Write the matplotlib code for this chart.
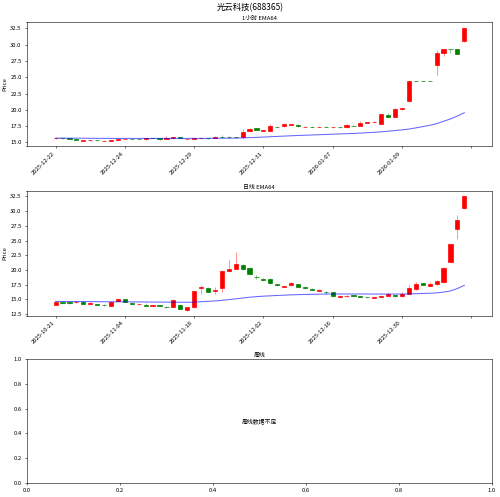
import matplotlib
matplotlib.use('Agg')
import matplotlib.pyplot as plt
import numpy as np

plt.rcParams['font.family'] = ['Noto Sans CJK SC', 'DejaVu Sans']
plt.rcParams['axes.unicode_minus'] = False
plt.rcParams['font.size'] = 8.5

title = '光云科技(688365)'

# 1-hour candles (open, high, low, close) and EMA64
h_open = [15.60, 15.65, 15.60, 15.45, 15.28, 15.30, 15.35, 15.22, 15.28, 15.40,
          15.48, 15.55, 15.55, 15.45, 15.70, 15.60, 15.58, 15.60, 15.82, 15.50,
          15.58, 15.60, 15.62, 15.62, 15.90, 15.90, 15.82, 15.80, 16.80, 17.15,
          16.80, 16.80, 17.42, 17.45, 17.70, 17.70, 17.40, 17.42, 17.40, 17.35,
          17.30, 17.40, 17.30, 17.55, 17.55, 18.05, 18.15, 17.80, 19.25, 18.95,
          20.10, 21.30, 24.50, 24.50, 24.50, 26.90, 28.80, 29.32, 29.40, 30.50]
h_high = [15.70, 15.70, 15.62, 15.50, 15.35, 15.38, 15.38, 15.30, 15.35, 15.55,
          15.55, 15.58, 15.58, 15.62, 15.75, 15.65, 16.05, 15.85, 15.85, 15.58,
          15.65, 15.72, 15.66, 15.95, 16.15, 15.92, 15.85, 17.00, 17.20, 17.20,
          16.90, 17.75, 17.50, 17.95, 17.78, 17.75, 17.45, 17.45, 17.45, 17.55,
          17.40, 17.42, 17.85, 17.70, 18.30, 18.20, 18.25, 19.35, 19.55, 20.35,
          20.35, 24.50, 24.50, 24.50, 24.50, 29.20, 29.40, 29.35, 29.40, 32.50]
h_low = [15.55, 15.55, 15.45, 15.30, 15.25, 15.28, 15.28, 15.20, 15.25, 15.38,
         15.45, 15.48, 15.48, 15.42, 15.62, 15.40, 15.55, 15.58, 15.60, 15.45,
         15.55, 15.58, 15.55, 15.60, 15.85, 15.78, 15.75, 15.75, 16.75, 16.85,
         16.78, 16.70, 17.30, 17.40, 17.65, 17.40, 17.35, 17.35, 17.35, 17.30,
         17.28, 17.28, 17.28, 17.45, 17.50, 18.00, 18.10, 17.75, 18.90, 18.90,
         20.05, 21.20, 24.50, 24.50, 24.50, 25.30, 28.20, 28.70, 28.50, 30.40]
h_close = [15.65, 15.60, 15.50, 15.35, 15.32, 15.35, 15.30, 15.28, 15.32, 15.50,
           15.52, 15.50, 15.50, 15.60, 15.65, 15.58, 15.62, 15.82, 15.62, 15.55,
           15.62, 15.70, 15.60, 15.90, 15.88, 15.80, 15.78, 16.60, 17.10, 16.90,
           16.88, 17.50, 17.40, 17.75, 17.75, 17.45, 17.42, 17.40, 17.42, 17.32,
           17.38, 17.30, 17.60, 17.50, 17.95, 18.15, 18.20, 19.30, 18.95, 20.10,
           20.30, 24.50, 24.50, 24.50, 24.50, 28.80, 29.40, 29.30, 28.50, 32.50]
h_ema = [15.66, 15.66, 15.65, 15.65, 15.64, 15.63, 15.62, 15.62, 15.61, 15.61,
         15.61, 15.61, 15.61, 15.61, 15.61, 15.61, 15.62, 15.62, 15.62, 15.62,
         15.62, 15.62, 15.62, 15.63, 15.64, 15.65, 15.66, 15.69, 15.73, 15.77,
         15.82, 15.87, 15.92, 15.97, 16.02, 16.06, 16.10, 16.14, 16.18, 16.22,
         16.26, 16.30, 16.34, 16.38, 16.43, 16.49, 16.55, 16.62, 16.72, 16.82,
         16.92, 17.05, 17.23, 17.42, 17.62, 17.88, 18.24, 18.60, 19.05, 19.55]
h_ticklabels = ['2025-12-22', '2025-12-24', '2025-12-29', '2025-12-31',
                '2026-01-07', '2026-01-09', '']

# daily candles and EMA64
d_open = [14.10, 14.55, 14.50, 14.50, 14.60, 14.30, 14.25, 14.10, 13.90, 14.80,
          15.00, 14.45, 14.15, 14.05, 13.95, 14.05, 13.80, 13.70, 14.10, 13.20,
          13.70, 17.00, 17.00, 16.40, 17.00, 19.90, 20.20, 20.90, 20.30, 18.85,
          18.45, 18.50, 17.65, 17.20, 17.40, 17.60, 17.10, 16.85, 16.50, 16.25,
          16.25, 15.40, 15.55, 15.75, 15.55, 15.45, 15.25, 15.50, 15.60, 15.70,
          15.60, 16.00, 16.70, 17.75, 17.35, 17.55, 17.90, 21.40, 26.90, 30.50]
d_high = [14.65, 14.60, 14.55, 14.70, 14.70, 14.50, 14.30, 14.15, 14.80, 15.05,
          15.05, 14.50, 14.30, 14.40, 14.05, 14.10, 13.85, 15.00, 14.15, 13.80,
          16.50, 17.50, 17.10, 17.20, 19.90, 21.70, 23.00, 21.00, 20.50, 19.10,
          18.60, 18.60, 17.70, 17.35, 17.90, 17.70, 17.20, 16.95, 16.70, 16.40,
          16.30, 15.70, 15.80, 15.80, 15.60, 15.50, 15.50, 15.70, 16.10, 15.80,
          16.20, 17.40, 18.00, 17.85, 17.90, 18.35, 20.45, 24.50, 29.30, 32.50]
d_low = [14.05, 14.40, 14.15, 14.45, 14.25, 14.25, 14.05, 13.95, 13.85, 14.75,
         14.60, 14.20, 14.05, 13.90, 13.90, 13.90, 13.60, 13.65, 13.30, 13.10,
         13.60, 16.00, 16.20, 16.00, 16.20, 19.60, 20.10, 20.00, 19.20, 18.50,
         18.20, 17.70, 17.35, 17.15, 17.35, 17.05, 16.85, 16.60, 16.45, 16.00,
         15.50, 15.35, 15.50, 15.55, 15.40, 15.30, 15.20, 15.45, 15.55, 15.50,
         15.50, 15.90, 16.60, 17.40, 17.30, 17.50, 17.85, 21.30, 25.20, 30.40]
d_close = [14.55, 14.45, 14.40, 14.60, 14.30, 14.40, 14.10, 14.00, 14.50, 15.00,
           14.65, 14.25, 14.20, 13.95, 14.05, 13.95, 13.65, 14.90, 13.40, 13.65,
           16.40, 17.20, 16.30, 16.60, 19.80, 20.20, 21.00, 20.10, 19.30, 18.75,
           18.35, 17.80, 17.40, 17.30, 17.80, 17.10, 16.90, 16.65, 16.60, 16.20,
           15.60, 15.60, 15.60, 15.60, 15.45, 15.40, 15.45, 15.60, 15.90, 15.60,
           15.90, 16.90, 17.70, 17.50, 17.60, 18.20, 20.40, 24.50, 28.50, 32.50]
d_ema = [14.66, 14.66, 14.65, 14.65, 14.64, 14.63, 14.62, 14.61, 14.60, 14.60,
         14.60, 14.59, 14.58, 14.57, 14.56, 14.55, 14.54, 14.54, 14.53, 14.52,
         14.55, 14.62, 14.68, 14.75, 14.85, 14.98, 15.10, 15.25, 15.38, 15.48,
         15.56, 15.62, 15.68, 15.73, 15.78, 15.82, 15.85, 15.88, 15.90, 15.92,
         15.93, 15.93, 15.93, 15.93, 15.93, 15.93, 15.92, 15.92, 15.92, 15.92,
         15.92, 15.95, 15.98, 16.02, 16.06, 16.12, 16.25, 16.45, 16.85, 17.40]
d_ticklabels = ['2025-10-21', '2025-11-04', '2025-11-18', '2025-12-02',
                '2025-12-16', '2025-12-30', '']


def draw_candles(ax, o, h, l, c, ema, ticklabels, sub_title, ylim):
    o, h, l, c = map(np.asarray, (o, h, l, c))
    x = np.arange(len(o))
    up = c > o
    colors = np.where(up, 'red', 'green')

    ax.vlines(x, l, h, colors=colors, linewidth=1, alpha=0.6)
    ax.bar(x, c - o, bottom=o, width=0.6, color=colors,
           edgecolor=colors, linewidth=1)
    ax.plot(x, ema, color='blue', alpha=0.6, linewidth=1.5)

    ax.set_title(sub_title, fontsize=8.5, pad=3)
    ax.set_ylabel('Price')
    ax.set_xticks(np.arange(0, len(ticklabels) * 10, 10))
    ax.set_xticklabels(ticklabels, rotation=45, ha='right')
    ax.set_xlim(-4.2, 63.0)
    ax.set_ylim(*ylim)


fig = plt.figure(figsize=(10, 9.94), dpi=50)
fig.suptitle(title, fontsize=12, y=0.994)

ax1 = fig.add_axes([0.053, 0.706, 0.931, 0.249])
draw_candles(ax1, h_open, h_high, h_low, h_close, h_ema, h_ticklabels,
             '1小时 EMA64', (14.43, 33.43))

ax2 = fig.add_axes([0.053, 0.365, 0.931, 0.251])
draw_candles(ax2, d_open, d_high, d_low, d_close, d_ema, d_ticklabels,
             '日线 EMA64', (12.26, 33.45))

ax3 = fig.add_axes([0.053, 0.028, 0.931, 0.250])
ax3.set_title('周线', fontsize=8.5, pad=3)
ax3.text(0.5, 0.5, '周线数据不足', ha='center', va='center', transform=ax3.transAxes)

fig.savefig('out.png', dpi=50)
